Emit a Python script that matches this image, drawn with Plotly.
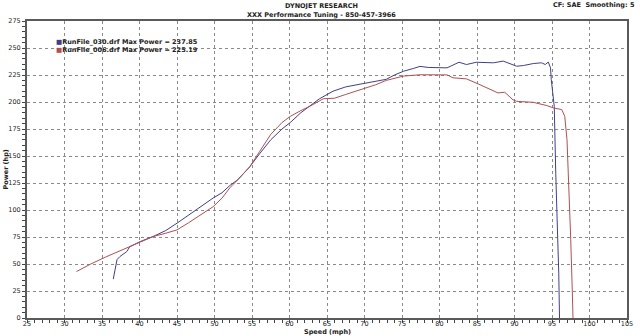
import plotly.graph_objects as go

# RunFile_030 (blue)
speed_030 = [36.5, 37.0, 37.4, 38.3, 38.7, 40.1, 41.8, 43.5, 45.0, 46.5, 48.1, 49.8, 51.0, 52.1,
             53.1, 54.7, 56.0, 57.5, 59.0, 60.1, 61.5, 62.7, 64.0, 65.8, 67.5, 69.8, 71.5, 72.9,
             74.0, 75.2, 76.5, 77.4, 78.5, 80.1, 81.0, 82.6, 83.6, 84.9, 86.0, 87.2, 88.5, 89.8,
             90.3, 91.2, 92.5, 93.6, 94.1, 94.5, 94.8, 94.9, 95.3, 95.5, 95.8, 95.9, 96.0]
power_030 = [36, 54, 57, 61.5, 66, 70.8, 75.4, 81, 87.8, 95, 103, 111, 116, 123,
             128, 140, 152, 165, 175, 181, 190, 196, 203, 210, 214, 217, 219, 221,
             225, 228.5, 231, 233, 232, 231.6, 231.6, 236.8, 234.7, 236.8, 236.3, 236.3, 237.85, 234.7,
             233.1, 233.8, 235.6, 236.3, 234.7, 237, 231.6, 220.8, 196, 134, 72, 41.5, 0]

# RunFile_006 (red)
speed_006 = [31.6, 33.5, 35.5, 37.5, 40.1, 41.8, 43.5, 45.0, 46.5, 48.1, 49.8, 51.0, 52.1, 53.1,
             54.7, 56.0, 57.5, 59.0, 60.1, 61.5, 62.7, 64.5, 66.0, 67.5, 69.8, 71.5, 72.9, 75.2,
             77.4, 79.0, 80.1, 81.0, 81.8, 83.6, 85.4, 86.7, 87.8, 88.7, 89.8, 90.3, 92.5, 94.3,
             95.2, 96.3, 96.7, 97.0, 97.3, 97.5, 97.7, 97.8]
power_006 = [43, 50, 56.5, 62.5, 70.8, 75.4, 78.5, 81.6, 88, 95.5, 103, 111, 121, 128,
             140, 154, 170, 181, 186.7, 192, 196, 203, 203.5, 207, 212, 216, 220, 224,
             225.2, 225, 225.19, 225.1, 222.4, 221.4, 216, 211.5, 208.4, 209, 202, 200.6, 199.7, 196.7,
             194.5, 193, 186.7, 165, 118.7, 72.4, 26, 0]

legend_labels = ["RunFile_030.drf Max Power = 237.85", "RunFile_006.drf Max Power = 225.19"]
colors = ["#40408a", "#b05050"]

x_ticks = list(range(25, 106, 5))
y_ticks = list(range(0, 276, 25))

FONT = "Verdana, DejaVu Sans, sans-serif"
FS = 6.5

fig = go.Figure()
fig.add_trace(go.Scatter(x=speed_030, y=power_030, mode="lines", name=legend_labels[0],
                         line=dict(color=colors[0], width=1), showlegend=False))
fig.add_trace(go.Scatter(x=speed_006, y=power_006, mode="lines", name=legend_labels[1],
                         line=dict(color=colors[1], width=1), showlegend=False))

axis_common = dict(
    showline=True, mirror=True, linecolor="#5a5a5a", linewidth=2,
    showgrid=True, gridcolor="#8a8a8a", griddash="dot", gridwidth=1,
    zeroline=False, ticks="outside", ticklen=3, tickcolor="#444",
    tickfont=dict(family=FONT, size=FS, color="#222"),
    automargin=False,
)

fig.update_xaxes(range=[25, 105], tickvals=x_ticks, ticktext=[str(v) for v in x_ticks],
                 minor=dict(dtick=1, ticks="outside", ticklen=3, tickcolor="#444", showgrid=False),
                 ticklabelstandoff=-5,
                 **axis_common)
fig.update_yaxes(range=[0, 275], tickvals=y_ticks, ticktext=[str(v) for v in y_ticks],
                 minor=dict(dtick=5, ticks="outside", ticklen=3, tickcolor="#444", showgrid=False),
                 **axis_common)

annotations = [
    dict(text="<b>DYNOJET RESEARCH</b>", x=0.49, y=1, xref="paper", yref="paper",
         xanchor="center", yanchor="bottom", yshift=9, showarrow=False,
         font=dict(family=FONT, size=FS, color="#222")),
    dict(text="<b>XXX Performance Tuning - 850-457-3966</b>", x=0.49, y=1, xref="paper", yref="paper",
         xanchor="center", yanchor="bottom", yshift=0, showarrow=False,
         font=dict(family=FONT, size=FS, color="#222")),
    dict(text="<b>CF: SAE  Smoothing: 5</b>", x=1.0, y=1, xref="paper", yref="paper",
         xanchor="right", yanchor="bottom", xshift=10, yshift=10, showarrow=False,
         font=dict(family=FONT, size=FS, color="#222")),
    dict(text="<b>Speed (mph)</b>", x=0.5, y=0, xref="paper", yref="paper",
         xanchor="center", yanchor="top", yshift=-8, showarrow=False,
         font=dict(family=FONT, size=FS, color="#222")),
    dict(text="<b>Power (hp)</b>", x=0, y=0.5, xref="paper", yref="paper",
         xanchor="right", yanchor="middle", xshift=-16, textangle=-90, showarrow=False,
         font=dict(family=FONT, size=FS, color="#222")),
]
for i, (lab, col) in enumerate(zip(legend_labels, colors)):
    annotations.append(dict(
        text=f'<span style="color:{col}">■</span><b>{lab}</b>',
        x=0.045, y=0.93 - i * 0.027, xref="paper", yref="paper",
        xanchor="left", yanchor="middle", showarrow=False,
        font=dict(family=FONT, size=FS, color="#222")))

fig.update_layout(
    width=640, height=336,
    margin=dict(l=27, r=13, t=21, b=18),
    paper_bgcolor="white", plot_bgcolor="white",
    showlegend=False,
    annotations=annotations,
)

fig.write_html("out.html", config={"displayModeBar": False},
               post_script="document.body.style.margin='0';document.body.style.overflow='hidden';")
